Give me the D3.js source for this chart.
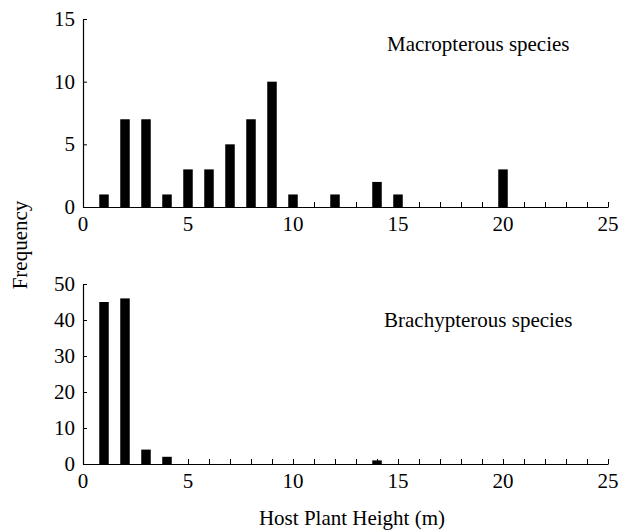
<!DOCTYPE html>
<html>
<head>
<meta charset="utf-8">
<script src="https://cdn.jsdelivr.net/npm/d3@7"></script>
<style>
  html, body { margin: 0; padding: 0; background: #fff; }
  text { font-family: "Liberation Serif", "Times New Roman", serif; fill: #000; }
</style>
</head>
<body>
<svg id="chart" width="627" height="532"></svg>
<script>
// Data
const macroHeights = [1, 2, 3, 4, 5, 6, 7, 8, 9, 10, 12, 14, 15, 20];
const macroFreq    = [1, 7, 7, 1, 3, 3, 5, 7, 10, 1, 1, 2, 1, 3];
const brachyHeights = [1, 2, 3, 4, 14];
const brachyFreq    = [45, 46, 4, 2, 1];
const xTicks = [0, 5, 10, 15, 20, 25];
const xMinorTicks = d3.range(0, 26);
const macroYTicks = [0, 5, 10, 15];
const brachyYTicks = [0, 10, 20, 30, 40, 50];
const panelTitles = ["Macropterous species", "Brachypterous species"];
const xTitle = "Host Plant Height (m)";
const yTitle = "Frequency";

const svg = d3.select("#chart");
const x = d3.scaleLinear().domain([0, 25]).range([83, 608]);
const barW = 9.5;
const fs = 21;

function panel(heights, freq, yMax, yTicks, y0, y1, title, titleX, titleY) {
  const y = d3.scaleLinear().domain([0, yMax]).range([y0, y1]);
  const g = svg.append("g");
  // bars
  g.selectAll("rect").data(heights.map((h, i) => ({h, f: freq[i]})))
    .enter().append("rect")
    .attr("x", d => x(d.h) - barW / 2)
    .attr("width", barW)
    .attr("y", d => y(d.f))
    .attr("height", d => y(0) - y(d.f))
    .attr("fill", "#000");
  // x axis (ticks pointing up)
  const xa = d3.axisBottom(x).tickValues(xMinorTicks).tickSizeInner(-5).tickSizeOuter(0).tickFormat("");
  const gx = g.append("g").attr("transform", `translate(0,${y0})`).call(xa);
  gx.select(".domain").attr("stroke", "#000").attr("stroke-width", 1.2);
  gx.selectAll(".tick line").attr("stroke", "#000");
  // x labels
  g.selectAll(".xl").data(xTicks).enter().append("text")
    .attr("class", "xl")
    .attr("x", d => x(d)).attr("y", y0 + 24)
    .attr("text-anchor", "middle").attr("font-size", fs).text(d => d);
  // y axis (ticks pointing right)
  const ya = d3.axisLeft(y).tickValues(yTicks).tickSizeInner(-4).tickSizeOuter(0).tickFormat("");
  const gy = g.append("g").attr("transform", `translate(${x(0)},0)`).call(ya);
  gy.select(".domain").attr("stroke", "#000").attr("stroke-width", 1.2);
  gy.selectAll(".tick line").attr("stroke", "#000");
  g.selectAll(".yl").data(yTicks).enter().append("text")
    .attr("class", "yl")
    .attr("x", 75).attr("y", d => y(d) + 7)
    .attr("text-anchor", "end").attr("font-size", fs).text(d => d);
  // panel title
  g.append("text").attr("x", titleX).attr("y", titleY)
    .attr("font-size", fs).text(title);
}

panel(macroHeights, macroFreq, 15, macroYTicks, 207, 19, panelTitles[0], 387, 51);
panel(brachyHeights, brachyFreq, 50, brachyYTicks, 464, 284, panelTitles[1], 384, 327);

svg.append("text").attr("x", 352).attr("y", 525)
  .attr("text-anchor", "middle").attr("font-size", fs).text(xTitle);
svg.append("text").attr("transform", "translate(27,245) rotate(-90)")
  .attr("text-anchor", "middle").attr("font-size", fs).text(yTitle);
</script>
</body>
</html>
